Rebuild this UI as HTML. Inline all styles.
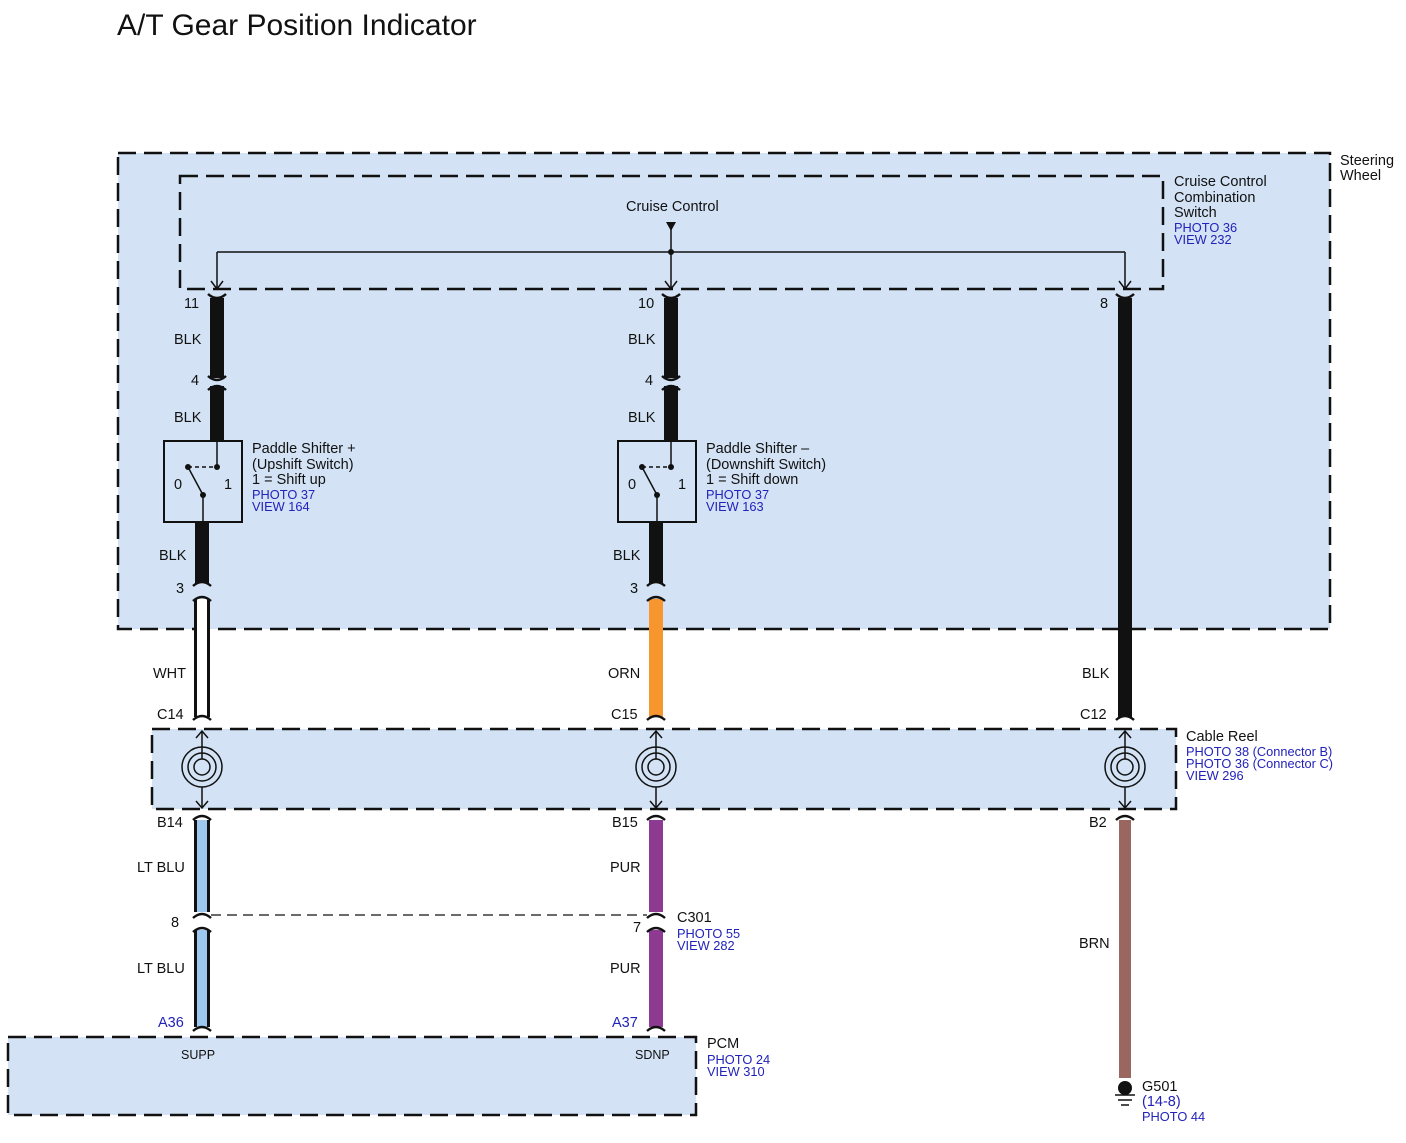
<!DOCTYPE html>
<html><head><meta charset="utf-8"><style>
html,body{margin:0;padding:0;background:#fff;}
svg{display:block;}
text{font-family:"Liberation Sans",Arial,sans-serif;font-size:14.5px;fill:#111;}
.b{fill:#2222bb;font-size:12.8px;}
</style></head><body>
<svg width="1406" height="1143" viewBox="0 0 1406 1143" xmlns="http://www.w3.org/2000/svg">
<text x="117" y="35" style="font-size:30px">A/T Gear Position Indicator</text>

<rect x="118" y="153" width="1212" height="476" fill="#d3e3f5" stroke="#111" stroke-width="2.5" stroke-dasharray="18,8"/>
<rect x="180" y="176" width="983" height="113" fill="none" stroke="#111" stroke-width="2.5" stroke-dasharray="18,8"/>
<rect x="152" y="729" width="1024" height="80" fill="#d3e3f5" stroke="#111" stroke-width="2.5" stroke-dasharray="18,8"/>
<rect x="8" y="1037" width="688" height="78" fill="#d3e3f5" stroke="#111" stroke-width="2.5" stroke-dasharray="18,8"/>

<text x="1340" y="165">Steering</text><text x="1340" y="180">Wheel</text>
<text x="1174" y="186">Cruise Control</text><text x="1174" y="202">Combination</text><text x="1174" y="217">Switch</text>
<text x="1174" y="232" class="b">PHOTO 36</text><text x="1174" y="244" class="b">VIEW 232</text>
<text x="626" y="211">Cruise Control</text>

<g stroke="#111" stroke-width="1.5" fill="none">
<path d="M217 252 H1125"/>
<path d="M217 252 V289 M211 281 L217 289 L223 281"/>
<path d="M1125 252 V289 M1119 281 L1125 289 L1131 281"/>
<path d="M671 224 V289 M665 281 L671 289 L677 281"/>
</g>
<path d="M666 222 H676 L671 231 Z" fill="#111"/>
<circle cx="671" cy="252" r="3" fill="#111"/>

<g stroke="#111" stroke-width="14">
<path d="M217 298 V378 M217 386 V441 M202 522 V583"/>
<path d="M671 298 V378 M671 386 V441 M656 522 V583"/>
<path d="M1125 298 V717"/>
</g>
<path d="M202 599 V717" stroke="#111" stroke-width="16"/>
<path d="M202 599 V717" stroke="#fff" stroke-width="10"/>
<path d="M656 599 V717" stroke="#f7962f" stroke-width="14"/>
<path d="M202 820 V912 M202 930 V1027" stroke="#111" stroke-width="16"/>
<path d="M202 820 V912 M202 930 V1027" stroke="#9ec8f0" stroke-width="10"/>
<path d="M656 820 V912 M656 930 V1027" stroke="#8e3a93" stroke-width="14"/>
<path d="M1125 820 V1078" stroke="#9a6660" stroke-width="12"/>

<g stroke="#111" stroke-width="2.5" fill="none">
<path d="M208 294 Q217 302 226 294 M662 294 Q671 302 680 294 M1116 294 Q1125 302 1134 294"/>
<path d="M208 390 Q217 382 226 390 M662 390 Q671 382 680 390"/>
<path d="M208 376 Q217 384 226 376 M662 376 Q671 384 680 376"/>
<path d="M193 586 Q202 578 211 586 M647 586 Q656 578 665 586"/>
<path d="M193 601 Q202 593 211 601 M647 601 Q656 593 665 601"/>
<path d="M193 720 Q202 712 211 720 M647 720 Q656 712 665 720 M1116 720 Q1125 712 1134 720"/>
<path d="M193 820 Q202 812 211 820 M647 820 Q656 812 665 820 M1116 820 Q1125 812 1134 820"/>
<path d="M193 918 Q202 910 211 918 M647 918 Q656 910 665 918"/>
<path d="M193 932 Q202 924 211 932 M647 932 Q656 924 665 932"/>
<path d="M193 1031 Q202 1023 211 1031 M647 1031 Q656 1023 665 1031"/>
</g>
<path d="M211 915 H647" stroke="#111" stroke-width="1.2" stroke-dasharray="10,6"/>

<g stroke="#111" fill="#d3e3f5" stroke-width="2">
<rect x="164" y="441" width="78" height="81"/>
<rect x="618" y="441" width="78" height="81"/>
</g>
<g stroke="#111" stroke-width="1.5" fill="none">
<path d="M217 441 V467 M188 467 L203 495 V522"/>
<path d="M188 467 H217" stroke-dasharray="4,3"/>
<path d="M671 441 V467 M642 467 L657 495 V522"/>
<path d="M642 467 H671" stroke-dasharray="4,3"/>
</g>
<g fill="#111"><circle cx="217" cy="467" r="3"/><circle cx="188" cy="467" r="3"/><circle cx="203" cy="495" r="3"/>
<circle cx="671" cy="467" r="3"/><circle cx="642" cy="467" r="3"/><circle cx="657" cy="495" r="3"/></g>
<text x="174" y="489">0</text><text x="224" y="489">1</text>
<text x="628" y="489">0</text><text x="678" y="489">1</text>
<text x="252" y="453">Paddle Shifter +</text><text x="252" y="469">(Upshift Switch)</text><text x="252" y="484">1 = Shift up</text>
<text x="252" y="499" class="b">PHOTO 37</text><text x="252" y="511" class="b">VIEW 164</text>
<text x="706" y="453">Paddle Shifter –</text><text x="706" y="469">(Downshift Switch)</text><text x="706" y="484">1 = Shift down</text>
<text x="706" y="499" class="b">PHOTO 37</text><text x="706" y="511" class="b">VIEW 163</text>

<g stroke="#111" stroke-width="1.5" fill="none">
<circle cx="202" cy="767" r="20"/><circle cx="202" cy="767" r="14"/><circle cx="202" cy="767" r="8"/>
<path d="M202 731 V759 M196 738 L202 731 L208 738 M202 787 V808 M196 801 L202 808 L208 801"/>
<circle cx="656" cy="767" r="20"/><circle cx="656" cy="767" r="14"/><circle cx="656" cy="767" r="8"/>
<path d="M656 731 V759 M650 738 L656 731 L662 738 M656 787 V808 M650 801 L656 808 L662 801"/>
<circle cx="1125" cy="767" r="20"/><circle cx="1125" cy="767" r="14"/><circle cx="1125" cy="767" r="8"/>
<path d="M1125 731 V759 M1119 738 L1125 731 L1131 738 M1125 787 V808 M1119 801 L1125 808 L1131 801"/>
</g>
<text x="1186" y="741">Cable Reel</text>
<text x="1186" y="756" class="b">PHOTO 38 (Connector B)</text>
<text x="1186" y="768" class="b">PHOTO 36 (Connector C)</text>
<text x="1186" y="780" class="b">VIEW 296</text>

<text x="184" y="308">11</text><text x="638" y="308">10</text><text x="1100" y="308">8</text>
<text x="174" y="344">BLK</text><text x="628" y="344">BLK</text>
<text x="191" y="385">4</text><text x="645" y="385">4</text>
<text x="174" y="422">BLK</text><text x="628" y="422">BLK</text>
<text x="159" y="560">BLK</text><text x="613" y="560">BLK</text>
<text x="176" y="593">3</text><text x="630" y="593">3</text>
<text x="153" y="678">WHT</text><text x="608" y="678">ORN</text><text x="1082" y="678">BLK</text>
<text x="157" y="719">C14</text><text x="611" y="719">C15</text><text x="1080" y="719">C12</text>
<text x="157" y="827">B14</text><text x="612" y="827">B15</text><text x="1089" y="827">B2</text>
<text x="137" y="872">LT BLU</text><text x="610" y="872">PUR</text>
<text x="171" y="927">8</text><text x="633" y="932">7</text>
<text x="677" y="922">C301</text>
<text x="677" y="938" class="b">PHOTO 55</text><text x="677" y="950" class="b">VIEW 282</text>
<text x="1079" y="948">BRN</text>
<text x="137" y="973">LT BLU</text><text x="610" y="973">PUR</text>
<text x="158" y="1027" class="b" style="font-size:14.5px">A36</text><text x="612" y="1027" class="b" style="font-size:14.5px">A37</text>
<text x="181" y="1059" style="font-size:12.5px">SUPP</text><text x="635" y="1059" style="font-size:12.5px">SDNP</text>
<text x="707" y="1048">PCM</text>
<text x="707" y="1064" class="b">PHOTO 24</text><text x="707" y="1076" class="b">VIEW 310</text>

<circle cx="1125" cy="1088" r="7" fill="#111"/>
<g stroke="#111" stroke-width="1.5"><path d="M1115 1095 H1135 M1118 1100 H1132 M1121 1105 H1129"/></g>
<text x="1142" y="1091">G501</text>
<text x="1142" y="1106" class="b" style="font-size:14.5px">(14-8)</text>
<text x="1142" y="1121" class="b">PHOTO 44</text>
</svg>
</body></html>
